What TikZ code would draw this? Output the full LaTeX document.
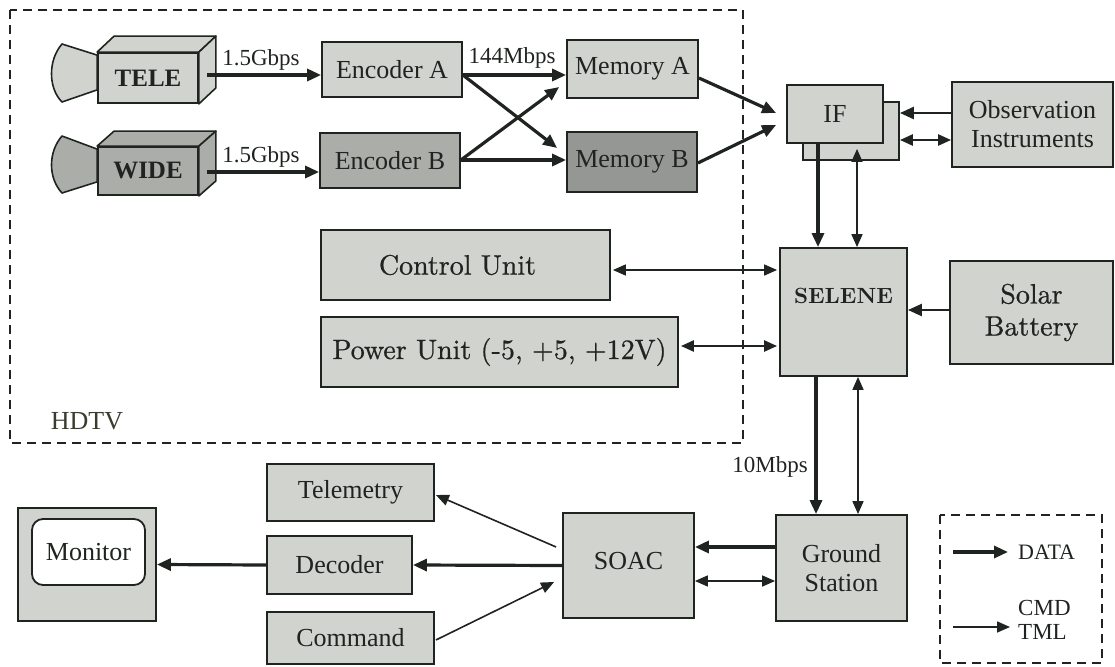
\documentclass[tikz,border=0pt]{standalone}
\usepackage{fontspec}
\newfontfamily\tms{Liberation Serif}
\newfontfamily\cent[FakeBold=0.7]{lmroman10-regular.otf}
\newfontfamily\centbold{lmroman10-bold.otf}
\usetikzlibrary{arrows.meta,calc,backgrounds}
\definecolor{ink}{RGB}{32,36,32}
\definecolor{lite}{RGB}{208,211,206}
\definecolor{midg}{RGB}{170,173,168}
\definecolor{darkg}{RGB}{148,151,148}
\definecolor{hd}{RGB}{58,60,48}
\tikzset{
  blk/.style={draw=ink, line width=1.8pt, fill=lite, inner sep=0pt, align=center, text=ink},
  tf/.style={font=\tms\fontsize{26}{29}\selectfont},
  cf/.style={font=\cent\fontsize{28}{32}\selectfont},
  rate/.style={inner sep=0pt, text=ink, font=\tms\fontsize{23}{25}\selectfont},
  txt/.style={inner sep=0pt, text=ink, align=center},
  data/.style={draw=ink, line width=3.2pt, -{Triangle[length=14pt,width=12pt]}},
  ctl/.style={draw=ink, line width=1.6pt, -{Triangle[length=13pt,width=11pt]}},
  ctlb/.style={draw=ink, line width=1.6pt, {Triangle[length=13pt,width=11pt]}-{Triangle[length=13pt,width=11pt]}},
  ctlbb/.style={draw=ink, line width=2.4pt, {Triangle[length=13pt,width=11pt]}-{Triangle[length=13pt,width=11pt]}},
  frame/.style={draw=ink, line width=2.5pt, dash pattern=on 9pt off 6pt},
  face/.style={draw=ink, line width=1.6pt, line join=round},
}
\begin{document}
\begin{tikzpicture}[x=1pt,y=-1pt]
\useasboundingbox (0,0) rectangle (1115,666);

% HDTV subsystem frame
\draw[frame] (10,10) rectangle (743,443);
\node[txt, text=hd, font=\tms\fontsize{26}{28}\selectfont] (hdtv) at (87,421) {HDTV};

% cameras: front faces
\node[blk, fill=lite, minimum width=100, minimum height=50, font=\tms\bfseries\fontsize{25}{27}\selectfont] (tele) at (148,78) {\raisebox{-3pt}{TELE}};
\node[blk, fill=midg, minimum width=100, minimum height=48, font=\tms\bfseries\fontsize{25}{27}\selectfont] (wide) at (148,171) {\raisebox{-3pt}{WIDE}};

% camera bodies in depth and lenses
\begin{scope}[on background layer]
  \draw[face, fill=lite] ($(tele.north west)+(0,3)$) -- (62,44) .. controls (48,60) and (48,88) .. (62,102) -- ($(tele.south west)+(0,-14)$) -- cycle;
  \draw[face, fill=midg] ($(wide.north west)+(0,3)$) -- (62,136) .. controls (48,152) and (48,178) .. (62,193) -- ($(wide.south west)+(0,-14)$) -- cycle;
\end{scope}
\draw[face, fill=lite] (tele.north west) -- ++(17,-16) -- ($(tele.north east)+(17,-16)$) -- (tele.north east) -- cycle;
\draw[face, fill=lite] (tele.north east) -- ++(17,-16) -- ($(tele.south east)+(17,-16)$) -- (tele.south east) -- cycle;
\draw[face, fill=midg] (wide.north west) -- ++(17,-15) -- ($(wide.north east)+(17,-15)$) -- (wide.north east) -- cycle;
\draw[face, fill=midg] (wide.north east) -- ++(17,-15) -- ($(wide.south east)+(17,-15)$) -- (wide.south east) -- cycle;

% encoders and memories
\node[blk, tf, minimum width=140, minimum height=55] (encA) at (392,69.5) {Encoder A};
\node[blk, tf, fill=midg, minimum width=140, minimum height=55] (encB) at (390,160.5) {Encoder B};
\node[blk, tf, minimum width=131, minimum height=58] (memA) at (632.5,69) {Memory A};
\node[blk, tf, fill=darkg, minimum width=130, minimum height=60] (memB) at (632,162) {Memory B};

% interface (stacked)
\node[blk, minimum width=96, minimum height=58] (ifback) at (851,131) {};
\node[blk, tf, minimum width=96, minimum height=58] (iffront) at (835,114) {\raisebox{-7pt}{IF}};
\node[blk, tf, minimum width=161, minimum height=85] (obs) at (1032.5,124.5) {Observation\\Instruments};

% units
\node[blk, cf, minimum width=289, minimum height=70] (ctrl) at (465.5,265) {\hspace*{-16pt}Control Unit};
\node[blk, cf, minimum width=357, minimum height=70] (power) at (499.5,352) {Power Unit (-5, +5, +12V)};
\node[blk, minimum width=127, minimum height=128] (selene) at (843.5,312) {};
\node[txt, font=\centbold\fontsize{22}{25}\selectfont] (seleneT) at (843.5,296) {SELENE};
\node[blk, cf, minimum width=163, minimum height=103] (solar) at (1031.5,312.5) {Solar\\Battery};

% ground segment
\node[blk, tf, minimum width=131, minimum height=106] (gs) at (841.5,568) {Ground\\Station};
\node[blk, tf, minimum width=131, minimum height=105] (soac) at (628.5,565.5) {\raisebox{10pt}{SOAC}};
\node[blk, tf, minimum width=167, minimum height=57] (telem) at (350.5,492.5) {Telemetry};
\node[blk, tf, minimum width=145, minimum height=58] (dec) at (339.5,565) {Decoder};
\node[blk, tf, minimum width=167, minimum height=52] (cmd) at (350.5,638) {Command};
\node[blk, minimum width=138, minimum height=113] (mon) at (87,564.5) {};
\node[blk, tf, fill=white, rounded corners=11pt, minimum width=113, minimum height=66] (monscr) at (88.5,552) {Monitor};

% camera links
\draw[data] ($(tele.east)+(8,-3)$) -- ($(encA.west)+(0,5.5)$);
\node[rate] (rate1) at (261,60) {1.5Gbps};
\draw[data] ($(wide.east)+(8,1)$) -- ($(encB.west)+(0,11.5)$);
\node[rate] (rate2) at (261,157) {1.5Gbps};

% encoder to memory cross links
\draw[data] ($(encA.east)+(0,5.5)$) -- ($(memA.west)+(0,6)$);
\draw[data] ($(encA.east)+(0,5.5)$) -- ($(memB.west)+(-9,-14)$);
\draw[data] ($(encB.east)+(0,-0.5)$) -- ($(memA.west)+(-7,18)$);
\draw[data] ($(encB.east)+(0,-0.5)$) -- ($(memB.west)+(0,-2)$);
\node[rate] (rate3) at (512,58) {144Mbps};

% memory to IF
\draw[data] ($(memA.east)+(0,9)$) -- ($(iffront.west)+(-10,-1)$);
\draw[data] ($(memB.east)+(0,1)$) -- ($(iffront.west)+(-10,11)$);

% instruments to IF
\draw[data, line width=2.6pt] ($(obs.west)+(0,-11.5)$) -- ($(ifback.east)+(0,-18)$);
\draw[ctlbb] ($(obs.west)+(0,15.5)$) -- ($(ifback.east)+(0,9)$);

% IF to SELENE
\draw[data] ($(iffront.south)+(-17,0)$) -- ($(selene.north)+(-25.5,0)$);
\draw[ctlb] ($(iffront.south)+(22,5)$) -- ($(selene.north)+(13.5,0)$);

% units to SELENE
\draw[ctlb] ($(ctrl.east)+(2,5)$) -- ($(selene.west)+(-2,-42)$);
\draw[ctlbb] ($(power.east)+(2,-6)$) -- ($(selene.west)+(-2,34)$);
\draw[data, line width=2.4pt] ($(solar.west)+(0,-2.5)$) -- ($(selene.east)+(0,-2)$);

% SELENE to ground station
\draw[data] ($(selene.south)+(-27.5,0)$) -- ($(gs.north)+(-25.5,0)$);
\draw[ctlb] ($(selene.south)+(14.5,0)$) -- ($(gs.north)+(16.5,0)$);
\node[rate, anchor=east] (rate4) at (808,467) {10Mbps};

% ground station to SOAC
\draw[data] ($(gs.west)+(0,-21)$) -- ($(soac.east)+(0,-18.5)$);
\draw[ctlb] ($(gs.west)+(0,13)$) -- ($(soac.east)+(0,15.5)$);

% SOAC to user side
\draw[data] (soac.west) -- (dec.east);
\draw[data] (dec.west) -- (mon.east);
\draw[ctl] ($(soac.west)+(-6,-18.5)$) -- ($(telem.east)+(1,2.5)$);
\draw[ctl] ($(cmd.east)+(1,2)$) -- ($(soac.west)+(-8,16.5)$);

% legend
\draw[frame] (940,515) rectangle (1102,663);
\node[txt, font=\tms\fontsize{22}{24}\selectfont, anchor=west] (ldata) at (1018,552) {DATA};
\node[txt, font=\tms\fontsize{23}{24}\selectfont, anchor=west, align=left] (lcmd) at (1018,620) {CMD\\TML};
\coordinate (ld0) at (953,552);
\coordinate (lc0) at (953,627);
\draw[data] (ld0) -- ($(ldata.west)+(-10,0)$);
\draw[ctl] (lc0) -- ($(lcmd.west)+(-8,7)$);
\end{tikzpicture}
\end{document}
